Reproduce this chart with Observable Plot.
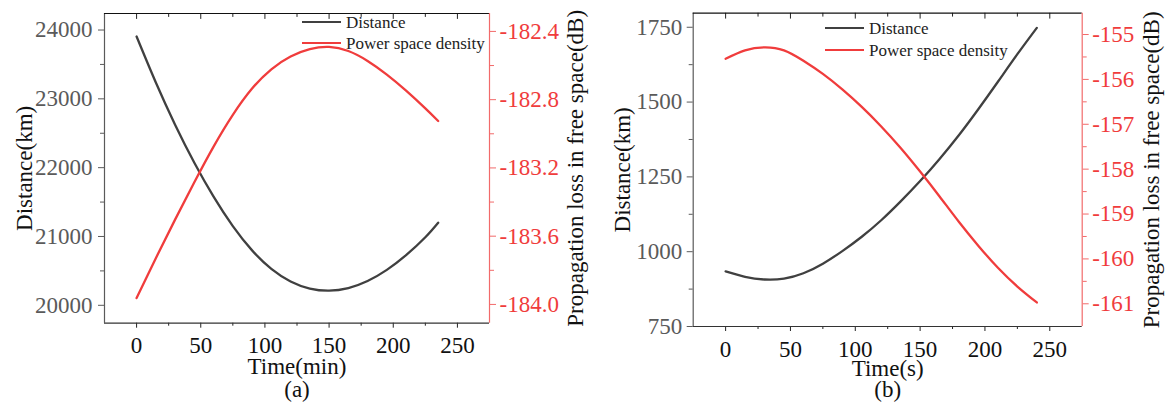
<!DOCTYPE html>
<html>
<head>
<meta charset="utf-8">
<script src="https://cdn.jsdelivr.net/npm/d3@7"></script>
<script src="https://cdn.jsdelivr.net/npm/@observablehq/plot@0.6"></script>
<style>
  html, body { margin: 0; padding: 0; background: #fff; }
  #chart { position: relative; width: 1168px; height: 408px; font-family: "Liberation Serif", "Times New Roman", serif; }
  #chart svg { position: absolute; left: 0; top: 0; font-family: "Liberation Serif", "Times New Roman", serif !important; }
  #chart svg text, #chart svg g { font-family: "Liberation Serif", "Times New Roman", serif !important; font-variant: normal !important; font-variant-numeric: normal !important; }
  .lg-line { position: absolute; height: 2.4px; width: 39px; }
  .lg-text { position: absolute; font-size: 17px; line-height: 20px; color: #222; white-space: nowrap; }
</style>
</head>
<body>
<div id="chart"></div>
<script>
// ---------- data ----------
// Panel (a): time in minutes
const timeA = [0, 15, 30, 45, 60, 75, 90, 105, 120, 135, 150, 165, 180, 195, 210, 225, 235];
const distanceA = [23905, 23237, 22625, 22072, 21579, 21151, 20798, 20530, 20347, 20244, 20213, 20251, 20353, 20515, 20729, 20989, 21200];
const powerA = [-183.963, -183.729, -183.503, -183.284, -183.075, -182.889, -182.735, -182.622, -182.547, -182.504, -182.491, -182.515, -182.573, -182.653, -182.747, -182.851, -182.925];

// Panel (b): time in seconds
const timeB = [0, 15, 30, 45, 60, 75, 90, 105, 120, 135, 150, 165, 180, 195, 210, 225, 240];
const distanceB = [934, 916, 907, 910, 928, 960, 1002, 1050, 1105, 1168, 1236, 1310, 1390, 1477, 1568, 1660, 1748];
const powerB = [-155.54, -155.353, -155.285, -155.353, -155.585, -155.878, -156.223, -156.613, -157.048, -157.528, -158.053, -158.608, -159.178, -159.71, -160.198, -160.615, -160.97];

// Tick values
const xTicks = [0, 50, 100, 150, 200, 250];
const xMinorTicks = [25, 75, 125, 175, 225];
const distTicksA = [20000, 21000, 22000, 23000, 24000];
const distMinorA = [20500, 21500, 22500, 23500];
const powTicksA = [-184.0, -183.6, -183.2, -182.8, -182.4];
const powMinorA = [-183.8, -183.4, -183.0, -182.6];
const distTicksB = [750, 1000, 1250, 1500, 1750];
const distMinorB = [875, 1125, 1375, 1625];
const powTicksB = [-161, -160, -159, -158, -157, -156, -155];
const powMinorB = [-160.5, -159.5, -158.5, -157.5, -156.5, -155.5];

// Texts
const seriesNames = ["Distance", "Power space density"];
const leftTitle = "Distance(km)";
const rightTitle = "Propagation loss in free space(dB)";
const xTitleA = "Time(min)";
const xTitleB = "Time(s)";
const tagA = "(a)";
const tagB = "(b)";

// ---------- style ----------
const W = 1168, H = 408;
const FONT = '"Liberation Serif", "Times New Roman", serif';
const RED = "#f03c3c";
const RED_AXIS = "#f26a6a";
const GRAY = "#5a5a5a";
const DARK = "#404040";
const INK = "#111111";
const FS = 23;

// a plain line shape for inward tick vectors
const tickShape = {draw(context, l) { context.moveTo(0, 0); context.lineTo(0, -l); }};

const chart = document.getElementById("chart");

function makePanel(cfg) {
  const common = {
    width: W, height: H,
    marginLeft: cfg.left, marginRight: W - cfg.right,
    marginTop: cfg.top, marginBottom: H - cfg.bottom,
    style: {background: "transparent", fontFamily: FONT, fontSize: FS + "px", overflow: "visible"}
  };
  const distData = cfg.time.map((t, i) => ({t, v: cfg.distance[i]}));
  const powData = cfg.time.map((t, i) => ({t, v: cfg.power[i]}));

  const p1 = Plot.plot({
    ...common,
    x: {domain: cfg.xDomain},
    y: {domain: cfg.yLeft},
    marks: [
      Plot.axisY(cfg.leftMinor, {anchor: "left", tickSize: 4, fill: null, stroke: GRAY, label: null}),
      Plot.axisY(cfg.leftTicks, {anchor: "left", tickSize: 6, tickPadding: cfg.leftPad, stroke: GRAY, fill: GRAY, fontSize: FS, fontFamily: FONT, tickFormat: d => String(d), label: null}),
      Plot.axisX(xMinorTicks, {anchor: "bottom", tickSize: 3, fill: null, stroke: "#222", label: null}),
      Plot.axisX(xTicks, {anchor: "bottom", tickSize: 5, tickPadding: cfg.xPad, stroke: "#222", fill: INK, fontSize: FS, fontFamily: FONT, tickFormat: d => String(d), label: null}),
      // inward ticks along the top edge
      Plot.vector(xMinorTicks, {x: d => d, frameAnchor: "top", anchor: "start", length: 3, rotate: 180, shape: tickShape, stroke: "#222", strokeWidth: 1}),
      Plot.vector(xTicks, {x: d => d, frameAnchor: "top", anchor: "start", length: 5, rotate: 180, shape: tickShape, stroke: "#222", strokeWidth: 1}),
      Plot.ruleX([cfg.xDomain[0]], {stroke: GRAY, strokeWidth: 1.2}),
      Plot.ruleY([cfg.yLeft[0]], {stroke: "#333", strokeWidth: 1.2}),
      Plot.ruleY([cfg.yLeft[1]], {stroke: "#111", strokeWidth: 1.2}),
      Plot.line(distData, {x: "t", y: "v", stroke: DARK, strokeWidth: 2.3, curve: "natural"}),
      Plot.text([leftTitle], {frameAnchor: "left", textAnchor: "middle", rotate: -90, dx: cfg.leftTitleDx, lineAnchor: "bottom", fontSize: FS, fontFamily: FONT, fill: INK}),
      Plot.text([cfg.xTitle], {frameAnchor: "bottom", textAnchor: "middle", dy: cfg.xTitleDy, lineAnchor: "bottom", fontSize: FS, fontFamily: FONT, fill: INK}),
      Plot.text([cfg.tag], {frameAnchor: "bottom", textAnchor: "middle", dy: cfg.tagDy, lineAnchor: "bottom", fontSize: FS, fontFamily: FONT, fill: INK})
    ]
  });

  const p2 = Plot.plot({
    ...common,
    x: {domain: cfg.xDomain, axis: null},
    y: {domain: cfg.yRight},
    marks: [
      Plot.axisY(cfg.rightMinor, {anchor: "right", tickSize: 4, fill: null, stroke: RED_AXIS, label: null}),
      Plot.axisY(cfg.rightTicks, {anchor: "right", tickSize: 6, tickPadding: 4, stroke: RED_AXIS, fill: RED, fontSize: FS, fontFamily: FONT, tickFormat: cfg.rightFormat, label: null}),
      Plot.ruleX([cfg.xDomain[1]], {stroke: RED_AXIS, strokeWidth: 1.2}),
      Plot.line(powData, {x: "t", y: "v", stroke: RED, strokeWidth: 2.3, curve: "natural"}),
      Plot.text([rightTitle], {frameAnchor: "right", textAnchor: "middle", rotate: -90, dx: cfg.rightTitleDx, lineAnchor: "bottom", fontSize: FS, fontFamily: FONT, fill: INK})
    ]
  });

  chart.appendChild(p1);
  chart.appendChild(p2);

  // legend (HTML overlay)
  const colors = [DARK, RED];
  seriesNames.forEach((name, i) => {
    const ly = cfg.legendY + i * cfg.legendGap;
    const line = document.createElement("div");
    line.className = "lg-line";
    line.style.left = cfg.legendX + "px";
    line.style.top = (ly - 1.2) + "px";
    line.style.background = colors[i];
    chart.appendChild(line);
    const txt = document.createElement("div");
    txt.className = "lg-text";
    txt.textContent = name;
    txt.style.left = (cfg.legendX + 44) + "px";
    txt.style.top = (ly + 6.6 - 15.7) + "px";
    chart.appendChild(txt);
  });
}

makePanel({
  left: 104, right: 489, top: 13, bottom: 322.7,
  xDomain: [-25, 275], yLeft: [19740, 24240], yRight: [-184.11, -182.295],
  leftTicks: distTicksA, leftMinor: distMinorA, rightTicks: powTicksA, rightMinor: powMinorA,
  rightFormat: d => d.toFixed(1),
  time: timeA, distance: distanceA, power: powerA,
  xTitle: xTitleA, tag: tagA,
  leftPad: 6, xPad: 8,
  leftTitleDx: -73, rightTitleDx: 93, xTitleDy: 50.7, tagDy: 74,
  legendX: 302, legendY: 21.7, legendGap: 21.2
});

makePanel({
  left: 692.7, right: 1081.7, top: 12.7, bottom: 326,
  xDomain: [-25, 275], yLeft: [750, 1797], yRight: [-161.506, -154.525],
  leftTicks: distTicksB, leftMinor: distMinorB, rightTicks: powTicksB, rightMinor: powMinorB,
  rightFormat: d => String(d),
  time: timeB, distance: distanceB, power: powerB,
  xTitle: xTitleB, tag: tagB,
  leftPad: 5, xPad: 9,
  leftTitleDx: -63, rightTitleDx: 77, xTitleDy: 49, tagDy: 70.7,
  legendX: 825, legendY: 28.3, legendGap: 21.7
});
</script>
</body>
</html>
